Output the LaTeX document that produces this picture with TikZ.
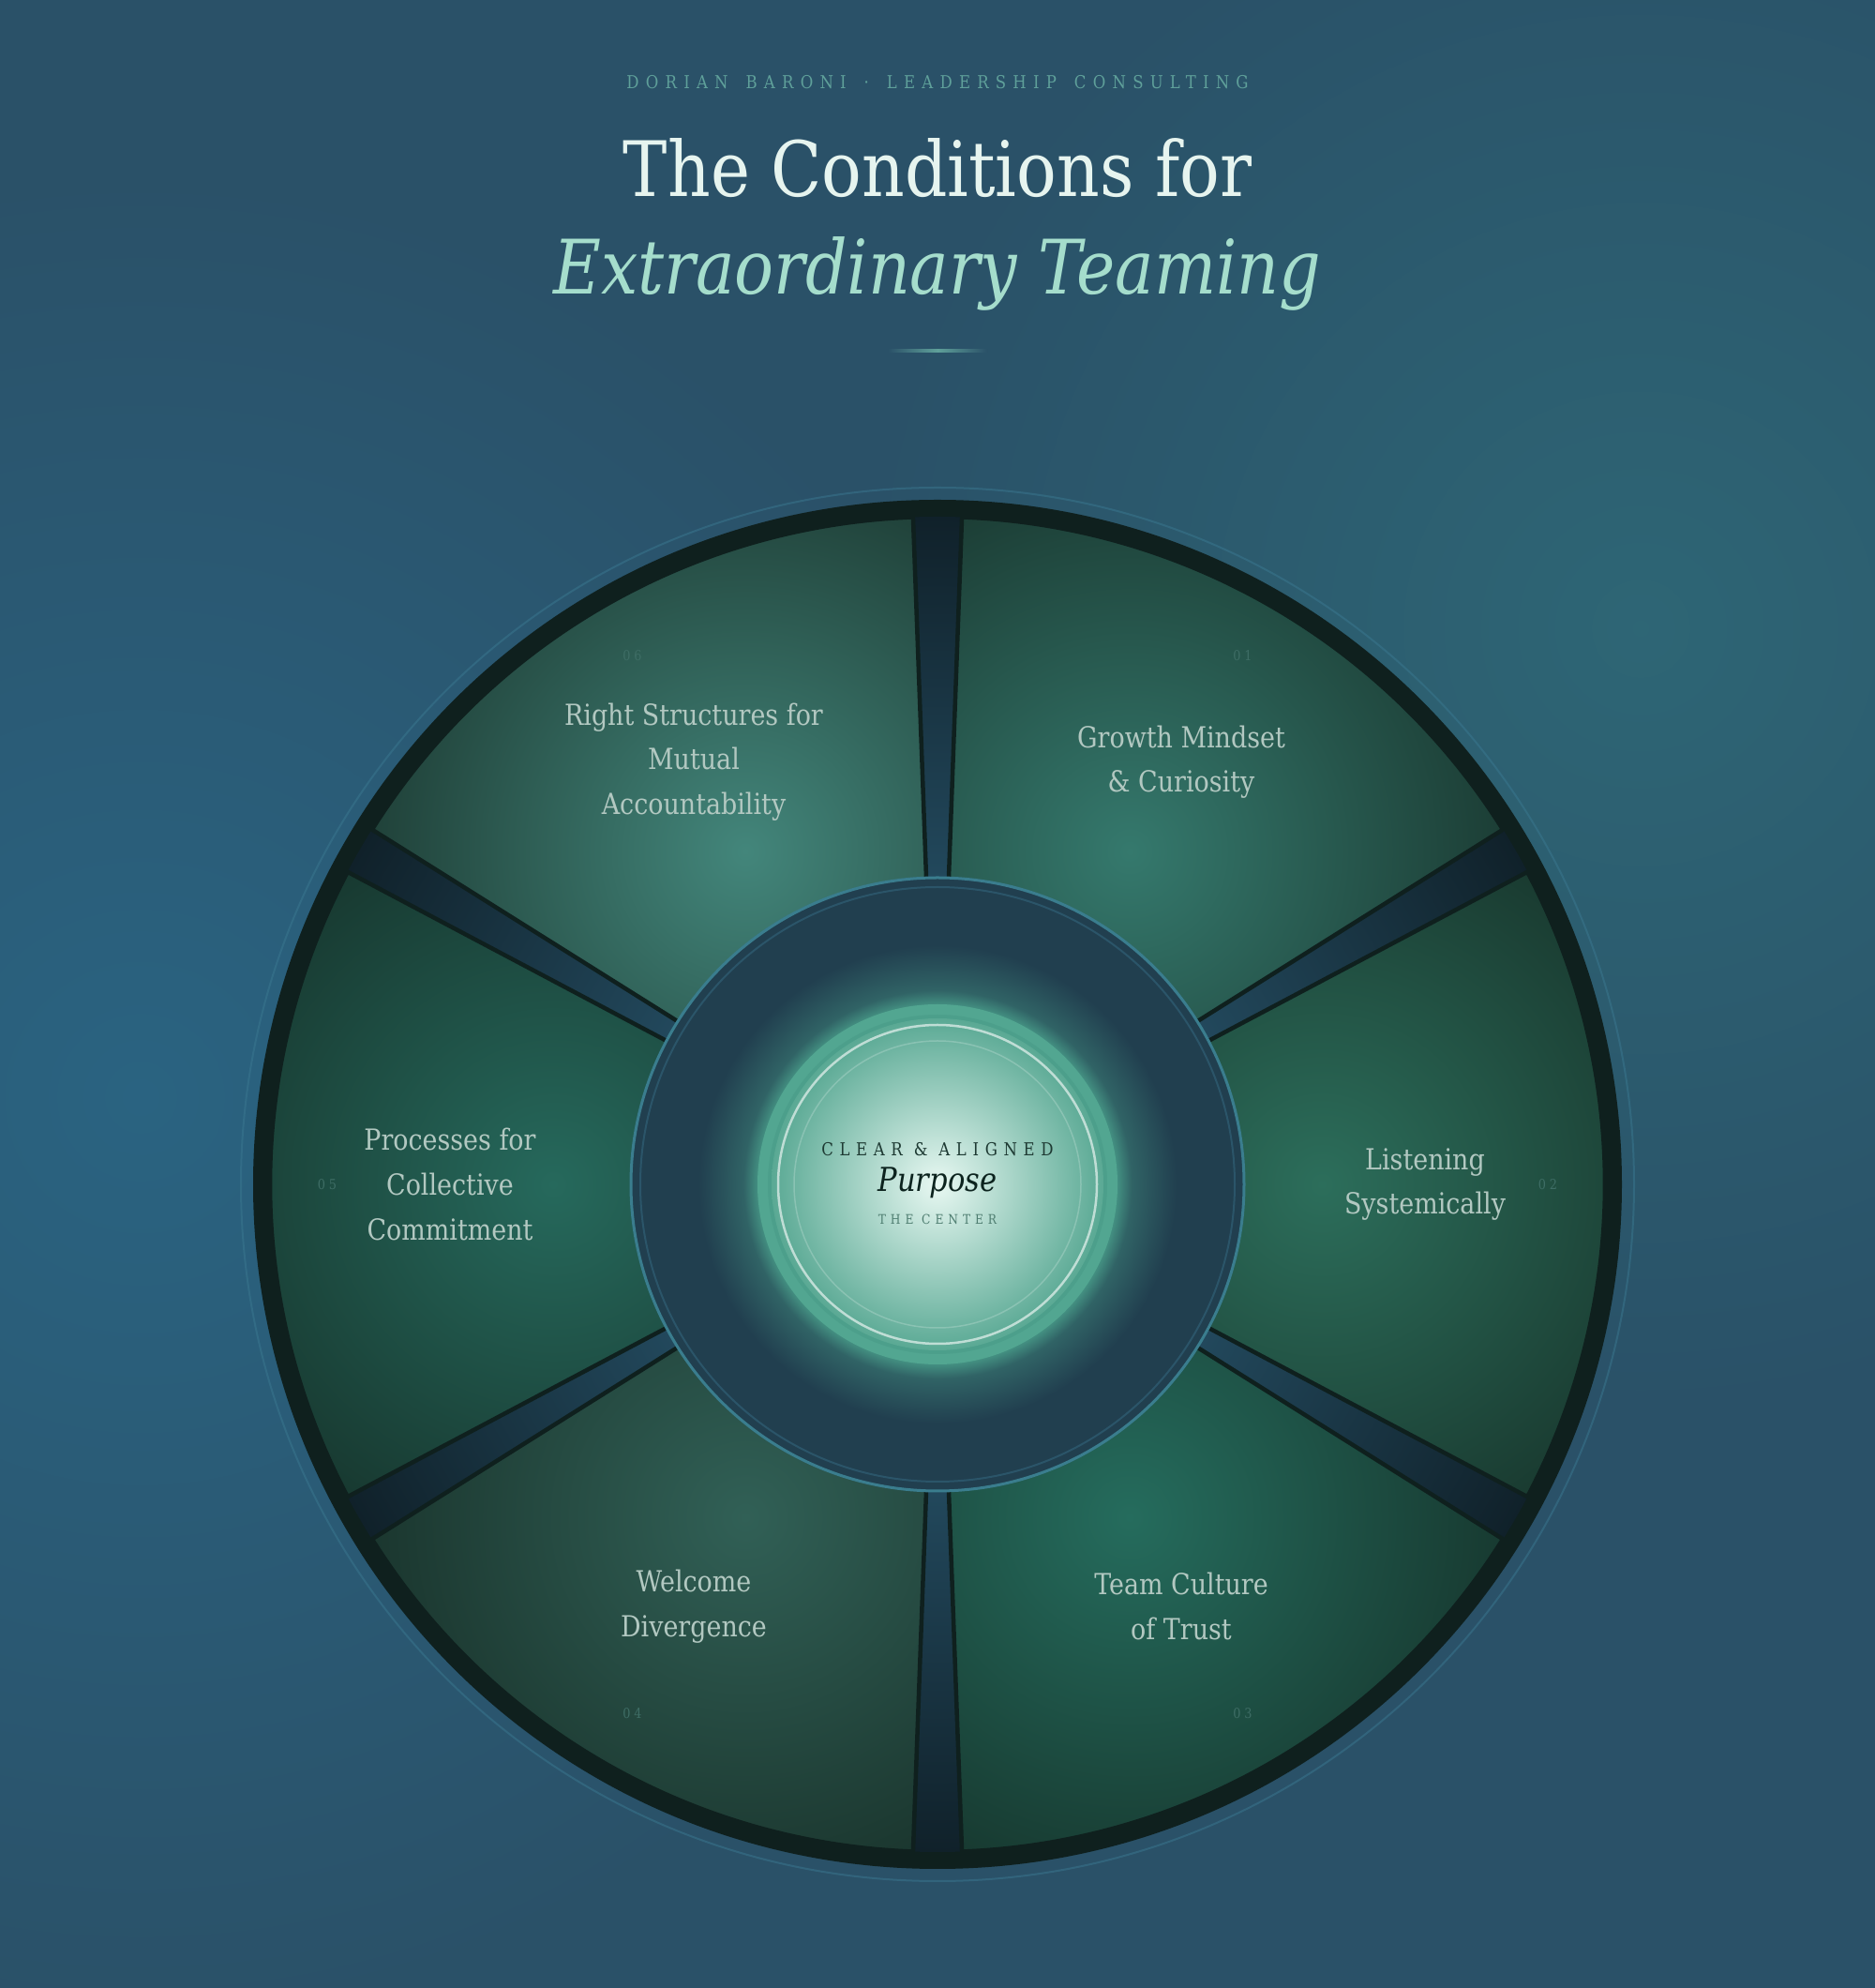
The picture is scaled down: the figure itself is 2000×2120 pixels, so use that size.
\documentclass[tikz,border=0pt]{standalone}
\usepackage{fontspec}
\setmainfont[FakeStretch=0.87]{DejaVu Serif}
\usetikzlibrary{fadings}

%Farben
\definecolor{bgbase}{HTML}{2A5168}
\definecolor{bgblue}{HTML}{2B6786}
\definecolor{bgteal}{HTML}{2F6A78}
\definecolor{headc}{HTML}{5FA09A}
\definecolor{titlec}{HTML}{E6F4EF}
\definecolor{titleitc}{HTML}{A5DDCC}
\definecolor{ringc}{HTML}{0F201E}
\definecolor{halo}{HTML}{3A7890}
\definecolor{gapin}{HTML}{22485C}
\definecolor{gapout}{HTML}{10212A}
\definecolor{segout}{HTML}{12261F}
\definecolor{segA}{HTML}{35796D}
\definecolor{segB}{HTML}{2C6E5B}
\definecolor{segC}{HTML}{256C5D}
\definecolor{segD}{HTML}{316056}
\definecolor{segE}{HTML}{26695C}
\definecolor{segF}{HTML}{43867B}
\definecolor{hubc}{HTML}{213F4F}
\definecolor{hubedge}{HTML}{3A7D8E}
\definecolor{hubline}{HTML}{2B5569}
\definecolor{glowc}{HTML}{438F81}
\colorlet{glowmid}{glowc!45!hubc}
\definecolor{purpring}{HTML}{52A691}
\definecolor{purpringin}{HTML}{4C9F8B}
\definecolor{purpin}{HTML}{E8F8F2}
\definecolor{purpout}{HTML}{5AA994}
\definecolor{lblc}{HTML}{B2C8C1}
\definecolor{numc}{HTML}{3E6D65}
\definecolor{cleartxt}{HTML}{1E3A33}
\definecolor{purptxt}{HTML}{0C231E}
\definecolor{centertxt}{HTML}{4E7D70}

%Verlaeufe (Pfadradius = 25bp)
\pgfdeclareradialshading{gapshade}{\pgfpoint{0bp}{0bp}}{color(0bp)=(gapin); color(11.5bp)=(gapin); color(25bp)=(gapout); color(50bp)=(gapout)}
\pgfdeclareradialshading{glowshade}{\pgfpoint{0bp}{0bp}}{color(0bp)=(glowc); color(18.8bp)=(glowc); color(20.3bp)=(glowmid); color(25bp)=(hubc); color(50bp)=(hubc)}
\pgfdeclareradialshading{purpshade}{\pgfpoint{0bp}{0bp}}{color(0bp)=(purpin); color(25bp)=(purpout); color(50bp)=(purpout)}
\tikzfading[name=softglow, inner color=transparent!15, outer color=transparent!100]

\begin{document}
\begin{tikzpicture}[x=0.01cm, y=0.01cm,
    lbl/.style={text=lblc, align=center, font=\fontsize{8.8}{13.6}\selectfont},
    numlbl/.style={text=numc, font=\fontsize{4.2}{5}\selectfont\addfontfeatures{LetterSpace=25}},
    segedge/.style={draw=ringc, line width=0.045cm, line join=round}]
    \useasboundingbox (0,0) rectangle (2000,2120);

    %Hintergrund
    \fill[bgbase] (0,0) rectangle (2000,2120);
    \fill[bgblue, path fading=softglow] (150,950) circle (1000);
    \fill[bgteal, path fading=softglow] (1750,1450) circle (850);

    %Titel
    \node[text=headc, anchor=base, font=\fontsize{5.4}{6}\selectfont\addfontfeatures{LetterSpace=38}] (header) at (1000,2025) {DORIAN\hspace{1em}BARONI\hspace{1em}·\hspace{1em}LEADERSHIP\hspace{1em}CONSULTING};
    \node[text=titlec, anchor=base, font=\fontsize{23.2}{28}\selectfont] (title) at (1000,1910) {The Conditions for};
    \node[text=titleitc, anchor=base, font=\fontsize{22.8}{28}\selectfont\itshape] (titleit) at (1000,1806) {Extraordinary Teaming};
    \shade[left color=bgbase, right color=bgbase, middle color=headc] (947,1744) rectangle (1053,1747);

    %Rad
    \begin{scope}[shift={(1000,857)}]
        \draw[halo, opacity=0.5, line width=0.02cm] (0,0) circle (743);
        \fill[ringc] (0,0) circle (730);
        \shade[shading=gapshade] (0,0) circle (712);

        %Segmente
        \foreach \a/\hi in {60/segA, 0/segB, -60/segC, -120/segD, 180/segE, 120/segF} {
            \begin{scope}
                \clip ({\a-27.9}:300) -- ({\a-27.9}:712) arc[start angle={\a-27.9}, end angle={\a+27.9}, radius=712] -- ({\a+27.9}:300) -- cycle;
                \shade[inner color=\hi, outer color=segout] (\a:410) circle (560);
            \end{scope}
            \draw[segedge] ({\a-27.9}:300) -- ({\a-27.9}:712) arc[start angle={\a-27.9}, end angle={\a+27.9}, radius=712] -- ({\a+27.9}:300) -- cycle;
        }

        %Nabe
        \fill[hubc] (0,0) circle (328);
        \draw[hubedge, line width=0.03cm] (0,0) circle (327);
        \draw[hubline, line width=0.02cm] (0,0) circle (317);
        \shade[shading=glowshade] (0,0) circle (255);
        \fill[purpring] (0,0) circle (192);
        \fill[purpringin] (0,0) circle (181);
        \shade[shading=purpshade] (0,0) circle (177);
        \draw[white, opacity=0.6, line width=0.025cm] (0,0) circle (170);
        \draw[white, opacity=0.2, line width=0.015cm] (0,0) circle (153);

        \node[text=cleartxt, anchor=base, font=\fontsize{5.4}{6}\selectfont\addfontfeatures{LetterSpace=35}] (clear) at (0,30) {CLEAR \& ALIGNED};
        \node[text=purptxt, anchor=base, font=\fontsize{10}{12}\selectfont\itshape] (purpose) at (0,-8) {Purpose};
        \node[text=centertxt, anchor=base, font=\fontsize{4}{5}\selectfont\addfontfeatures{LetterSpace=35}] (centre) at (0,-43) {THE CENTER};

        %Beschriftung
        \foreach \a/\t [count=\i] in {60/{Growth Mindset\\\& Curiosity}, 0/{Listening\\Systemically}, -60/{Team Culture\\of Trust}, -120/{Welcome\\Divergence}, 180/{Processes for\\Collective\\Commitment}, 120/{Right Structures for\\Mutual\\Accountability}} {
            \node[lbl] (cond\i) at (\a:520) {\t};
            \node[numlbl] (num\i) at (\a:651) {0\i};
        }
    \end{scope}
\end{tikzpicture}
\end{document}
